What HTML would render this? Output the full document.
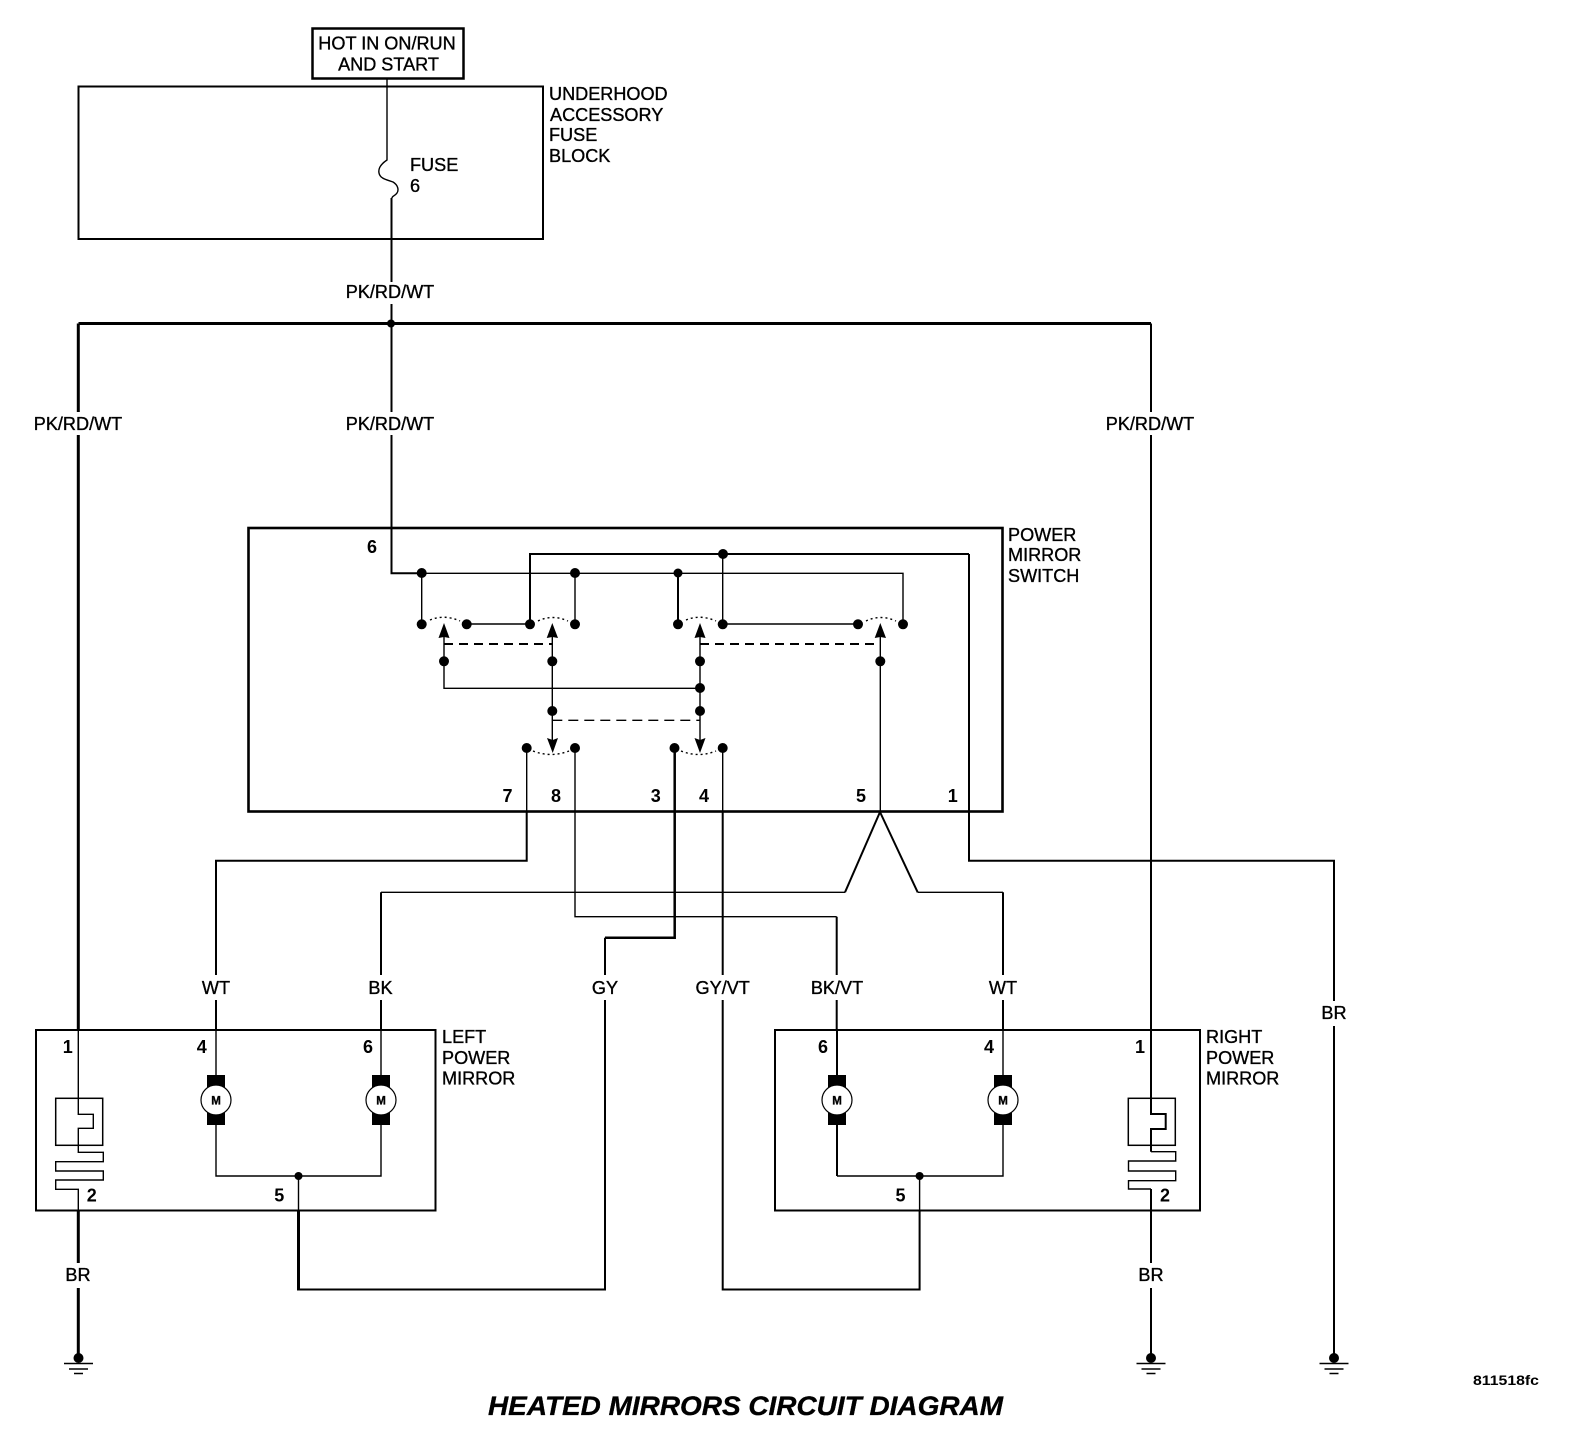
<!DOCTYPE html>
<html>
<head>
<meta charset="utf-8">
<style>
html,body{margin:0;padding:0;background:#fff;width:1576px;height:1440px;overflow:hidden}
svg{display:block}
text{font-family:"Liberation Sans",sans-serif;font-size:18.1px;fill:#000;stroke:#000;stroke-width:.35}
.c{text-anchor:middle}
.n{font-weight:bold;font-size:18px;text-anchor:middle;stroke:none}
path,line,rect.b{fill:none;stroke:#000}
.t1{stroke-width:1.4}
.t2{stroke-width:2}
.t25{stroke-width:2.5}
.t3{stroke-width:3}
</style>
</head>
<body>
<svg width="1576" height="1440" viewBox="0 0 1576 1440" xmlns="http://www.w3.org/2000/svg">
<!-- boxes -->
<rect class="b" x="312.5" y="28.5" width="151" height="50" stroke-width="2.5"/>
<rect class="b" x="78.5" y="86.5" width="464.5" height="152.5" stroke-width="2"/>
<rect class="b" x="248.5" y="528" width="754" height="283.5" stroke-width="2.6"/>
<rect class="b" x="36" y="1030" width="399.5" height="180.5" stroke-width="2"/>
<rect class="b" x="775" y="1030" width="425" height="180.5" stroke-width="2"/>

<!-- fuse & top feed -->
<path class="t1" d="M387 78V160C381 164 378 168 379 173C380 179 388 180 393 182C398 185 399 190 397 193C395 196 392 196 392 198"/>
<path class="t2" d="M391.5 198V573.3H421"/>
<path class="t3" d="M78.5 323.5H1151"/>
<path class="t3" d="M78.3 323.5V1030"/>
<path class="t2" d="M1151 323.5V1030"/>

<!-- switch internals -->
<path class="t1" d="M391.5 573.3H903V624"/>
<path class="t2" d="M530 624V554H969"/>
<path class="t1" d="M421.7 573V624M575 573V624M722.7 554V624M466.7 624H530M722.7 624H858"/>
<path class="t2" d="M678 573V624"/>
<g stroke-dasharray="2 3">
<path class="t1" d="M430 620Q444 614 460 621"/>
<path class="t1" d="M538 621Q552 614 568 621"/>
<path class="t1" d="M686 620Q700 614 716 621"/>
<path class="t1" d="M866 621Q880 614 896 621"/>
<path class="t1" d="M533 751Q551 758 569 751"/>
<path class="t1" d="M681 751Q699 758 716 751"/>
</g>
<path class="t2" stroke-dasharray="9 6" d="M444 644H552.3M700 644H880.3"/>
<path class="t1" stroke-dasharray="10 6" d="M552.3 720.3H700"/>
<path class="t1" d="M444 636V688.3H700M552.3 636V745M700 636V745"/>
<path class="t1" d="M880.3 636V811.7"/>
<g fill="#000" stroke="none">
<polygon points="444,623 449.5,638 444,637 438.5,638" style="fill:#000"/>
<polygon points="552.3,623 558,638 552.3,637 546.7,638" style="fill:#000"/>
<polygon points="700,623 705.5,638 700,637 694.5,638" style="fill:#000"/>
<polygon points="880.3,623 886,638 880.3,637 874.7,638" style="fill:#000"/>
<polygon points="552.7,753 558,738 552.7,740 547,738" style="fill:#000"/>
<polygon points="700,753 705.5,738 700,740 694.5,738" style="fill:#000"/>
<circle cx="421.7" cy="573" r="5"/><circle cx="575" cy="573" r="5"/><circle cx="678" cy="573" r="4.5"/><circle cx="723" cy="554" r="5"/>
<circle cx="421.7" cy="624.3" r="5"/><circle cx="466.7" cy="624.3" r="5"/><circle cx="530" cy="624.3" r="5"/><circle cx="575" cy="624.3" r="5"/>
<circle cx="678" cy="624.3" r="5"/><circle cx="722.7" cy="624.3" r="5"/><circle cx="858" cy="624.3" r="5"/><circle cx="903" cy="624.3" r="5"/>
<circle cx="444" cy="661.3" r="5"/><circle cx="552.3" cy="661.3" r="5"/><circle cx="700" cy="661.3" r="5"/><circle cx="880.3" cy="661.3" r="5"/>
<circle cx="700" cy="688" r="5"/><circle cx="552.3" cy="711" r="5"/><circle cx="700" cy="711" r="5"/>
<circle cx="526.7" cy="748" r="5"/><circle cx="575" cy="748" r="5"/><circle cx="674.5" cy="748" r="5"/><circle cx="722.7" cy="748" r="5"/>
<circle cx="391" cy="323.5" r="4"/>
</g>

<!-- harness -->
<path class="t1" d="M526.7 748V812"/>
<path class="t2" d="M526.7 812V860.7H216V1030"/>
<path class="t1" d="M575 748V916.7H836.7"/>
<path class="t2" d="M836.7 916.7V1030"/>
<path class="t25" d="M674.7 748V937.7H605"/>
<path class="t2" d="M605 937.7V1289.5H298.5"/>
<path class="t3" d="M298.5 1290.5V1211"/>
<path class="t1" d="M722.7 748V812"/>
<path class="t2" d="M722.7 812V1289.5H919.6V1211"/>
<path class="t2" d="M880 812L845 892.3"/>
<path class="t2" d="M880 812L917.7 892.3"/>
<path class="t1" d="M845 892.3H381"/>
<path class="t2" d="M381 892.3V1030"/>
<path class="t1" d="M917.7 892.3H1003"/>
<path class="t2" d="M1003 892.3V1030"/>
<path class="t2" d="M969 554V860.7H1334V1358"/>

<!-- left mirror internals -->
<path class="t1" d="M78.3 1030V1114.3H93.3V1128.3H78.3V1152.3H103.3V1161.7H55.7V1171H103.3V1180H55.7V1189.3H78.3V1211"/>
<rect class="b" x="55.7" y="1098.3" width="47" height="47" stroke-width="1.5"/>
<path class="t3" d="M78.3 1211V1358"/>
<path class="t1" d="M216 1030V1075M381 1030V1075M216 1125V1176H381V1125M298.5 1176V1211"/>
<!-- right mirror internals -->
<path class="t2" d="M1151 1030V1114H1165.7V1129H1151V1151.7"/>
<path class="t1" d="M1151 1151.7H1175.7V1161H1128.5V1171H1175.7V1180.7H1128.5V1189H1151"/>
<rect class="b" x="1128.3" y="1098.3" width="47" height="47" stroke-width="1.5"/>
<path class="t2" d="M1151 1189V1358"/>
<path class="t2" d="M837 1030V1075M837 1125V1176"/>
<path class="t1" d="M1003 1030V1075M1003 1125V1176H837M919.6 1176V1211"/>

<!-- motors -->
<g fill="#000" stroke="none">
<rect x="207" y="1075" width="18" height="14" style="fill:#000"/><rect x="207" y="1111" width="18" height="14" style="fill:#000"/>
<rect x="372" y="1075" width="18" height="14" style="fill:#000"/><rect x="372" y="1111" width="18" height="14" style="fill:#000"/>
<rect x="828" y="1075" width="18" height="14" style="fill:#000"/><rect x="828" y="1111" width="18" height="14" style="fill:#000"/>
<rect x="994" y="1075" width="18" height="14" style="fill:#000"/><rect x="994" y="1111" width="18" height="14" style="fill:#000"/>
</g>
<g fill="#fff" stroke="#000" stroke-width="1.2">
<circle cx="216" cy="1100" r="15"/><circle cx="381" cy="1100" r="15"/><circle cx="837" cy="1100" r="15"/><circle cx="1003" cy="1100" r="15"/>
</g>
<g style="font-weight:bold">
<text x="216" y="1104.5" class="c" style="font-size:11.5px;font-weight:bold">M</text>
<text x="381" y="1104.5" class="c" style="font-size:11.5px;font-weight:bold">M</text>
<text x="837" y="1104.5" class="c" style="font-size:11.5px;font-weight:bold">M</text>
<text x="1003" y="1104.5" class="c" style="font-size:11.5px;font-weight:bold">M</text>
</g>
<g fill="#000">
<circle cx="298.5" cy="1176" r="4"/><circle cx="919.6" cy="1176" r="4"/>
</g>

<!-- grounds -->
<g fill="#000">
<circle cx="78.5" cy="1358" r="5"/><circle cx="1151" cy="1358" r="5"/><circle cx="1334" cy="1358" r="5"/>
</g>
<g stroke-width="1.4">
<path d="M64 1363.5H93M69 1369H88M74 1373.5H83"/>
<path d="M1136.5 1363.5H1165.5M1141.5 1369H1160.5M1146.5 1373.5H1155.5"/>
<path d="M1319.5 1363.5H1348.5M1324.5 1369H1343.5M1329.5 1373.5H1338.5"/>
</g>

<!-- label gaps -->
<g fill="#fff" stroke="none">
<rect x="380" y="282" width="22" height="22" style="fill:#fff"/>
<rect x="68" y="412" width="22" height="23" style="fill:#fff"/>
<rect x="380" y="412" width="22" height="23" style="fill:#fff"/>
<rect x="1140" y="412" width="22" height="23" style="fill:#fff"/>
<rect x="206" y="975" width="20" height="25" style="fill:#fff"/>
<rect x="371" y="975" width="20" height="25" style="fill:#fff"/>
<rect x="595" y="975" width="20" height="25" style="fill:#fff"/>
<rect x="712" y="975" width="20" height="25" style="fill:#fff"/>
<rect x="827" y="975" width="20" height="25" style="fill:#fff"/>
<rect x="993" y="975" width="20" height="25" style="fill:#fff"/>
<rect x="1324" y="1001" width="20" height="25" style="fill:#fff"/>
<rect x="68" y="1263" width="20" height="25" style="fill:#fff"/>
<rect x="1141" y="1263" width="20" height="25" style="fill:#fff"/>
</g>

<!-- labels -->
<text x="387" y="49.5" class="c">HOT IN ON/RUN</text>
<text x="388.5" y="70.5" class="c">AND START</text>
<text x="549" y="100">UNDERHOOD</text>
<text x="550" y="121">ACCESSORY</text>
<text x="549" y="141">FUSE</text>
<text x="549" y="162">BLOCK</text>
<text x="410" y="171">FUSE</text>
<text x="410" y="192">6</text>
<text x="390" y="298" class="c">PK/RD/WT</text>
<text x="78" y="430" class="c">PK/RD/WT</text>
<text x="390" y="430" class="c">PK/RD/WT</text>
<text x="1150" y="430" class="c">PK/RD/WT</text>
<text x="1008" y="541">POWER</text>
<text x="1008" y="561">MIRROR</text>
<text x="1008" y="582">SWITCH</text>
<text x="442" y="1043">LEFT</text>
<text x="442" y="1064">POWER</text>
<text x="442" y="1084.5">MIRROR</text>
<text x="1206" y="1043">RIGHT</text>
<text x="1206" y="1064">POWER</text>
<text x="1206" y="1084.5">MIRROR</text>
<text x="216" y="994" class="c">WT</text>
<text x="380.5" y="994" class="c">BK</text>
<text x="605" y="994" class="c">GY</text>
<text x="722.7" y="994" class="c">GY/VT</text>
<text x="837" y="994" class="c">BK/VT</text>
<text x="1003" y="994" class="c">WT</text>
<text x="1334" y="1019" class="c">BR</text>
<text x="78" y="1281" class="c">BR</text>
<text x="1151" y="1281" class="c">BR</text>

<!-- pin numbers -->
<text class="n" x="372" y="553">6</text>
<text class="n" x="507.5" y="802">7</text>
<text class="n" x="556" y="802">8</text>
<text class="n" x="655.7" y="802">3</text>
<text class="n" x="704" y="802">4</text>
<text class="n" x="861" y="802">5</text>
<text class="n" x="952.7" y="802">1</text>
<text class="n" x="67.7" y="1053">1</text>
<text class="n" x="201.7" y="1053">4</text>
<text class="n" x="368" y="1053">6</text>
<text class="n" x="91.7" y="1201.7">2</text>
<text class="n" x="279.3" y="1201.7">5</text>
<text class="n" x="823" y="1053">6</text>
<text class="n" x="989" y="1053">4</text>
<text class="n" x="1140" y="1053">1</text>
<text class="n" x="900.5" y="1201.7">5</text>
<text class="n" x="1165" y="1201.7">2</text>

<!-- footer -->
<text x="488" y="1415" textLength="515" lengthAdjust="spacingAndGlyphs" style="font-size:27px;font-weight:bold;font-style:italic">HEATED MIRRORS CIRCUIT DIAGRAM</text>
<text x="1473" y="1385" textLength="66" lengthAdjust="spacingAndGlyphs" style="font-size:14px;font-weight:bold;stroke:none">811518fc</text>
</svg>
</body>
</html>
